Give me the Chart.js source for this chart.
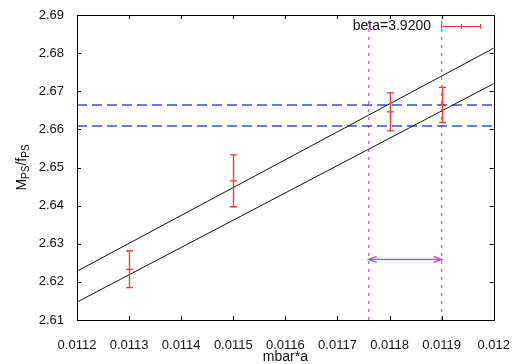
<!DOCTYPE html>
<html>
<head>
<meta charset="utf-8">
<script src="https://cdn.jsdelivr.net/npm/chart.js@4/dist/chart.umd.min.js"></script>
<style>
  html, body { margin: 0; padding: 0; background: #fff; }
  #wrap { width: 520px; height: 364px; }
</style>
</head>
<body>
<div id="wrap"><canvas id="c" width="520" height="364"></canvas></div>
<script>
// Measured ratio M_PS/f_PS against quark mass mbar*a
const massValues  = [0.0113, 0.0115, 0.0118, 0.0119];
const ratioValues = [2.6233, 2.6465, 2.6646, 2.6664];
const ratioErrors = [0.0048, 0.0068, 0.0050, 0.0046];

// Linear fit band (upper and lower edges)
const fitX     = [0.0112, 0.0120];
const fitUpper = [2.6228, 2.6813];
const fitLower = [2.6147, 2.6720];

// Target band in the ratio (horizontal dashed lines)
const bandLevels = [2.6664, 2.6609];

// Resulting interval in mbar*a (vertical dotted lines and arrow)
const markerX    = [0.01176, 0.0119];
const arrowLevel = 2.6259;

// Axis ticks
const xTicks      = [0.0112, 0.0113, 0.0114, 0.0115, 0.0116, 0.0117, 0.0118, 0.0119, 0.0120];
const xTickLabels = ['0.0112', '0.0113', '0.0114', '0.0115', '0.0116', '0.0117', '0.0118', '0.0119', '0.012'];
const yTicks      = [2.61, 2.62, 2.63, 2.64, 2.65, 2.66, 2.67, 2.68, 2.69];
const yTickLabels = ['2.61', '2.62', '2.63', '2.64', '2.65', '2.66', '2.67', '2.68', '2.69'];

const legendLabel = 'beta=3.9200';

const X_MIN = xTicks[0], X_MAX = xTicks[xTicks.length - 1];
const Y_MIN = yTicks[0], Y_MAX = yTicks[yTicks.length - 1];

const FONT = '"Liberation Sans", Arial, sans-serif';
const RED = '#ee3636';
const BLUE = '#3a52c4';
const MAGENTA_DOT = '#d070d0';
const MAGENTA = '#c048c0';

const measured = massValues.map((x, i) => ({ x: x, y: ratioValues[i], err: ratioErrors[i] }));

const datasets = [
  {
    label: 'fit upper',
    data: fitX.map((x, i) => ({ x: x, y: fitUpper[i] })),
    showLine: true, borderColor: '#111', borderWidth: 1, pointRadius: 0
  },
  {
    label: 'fit lower',
    data: fitX.map((x, i) => ({ x: x, y: fitLower[i] })),
    showLine: true, borderColor: '#111', borderWidth: 1, pointRadius: 0
  },
  ...bandLevels.map(level => ({
    label: 'band',
    data: [{ x: X_MIN, y: level }, { x: X_MAX, y: level }],
    showLine: true, borderColor: BLUE, borderWidth: 1.4, borderDash: [10, 5], pointRadius: 0
  })),
  ...markerX.map(mx => ({
    label: 'marker',
    data: [{ x: mx, y: Y_MIN }, { x: mx, y: Y_MAX }],
    showLine: true, borderColor: MAGENTA_DOT, borderWidth: 1.5, borderDash: [3, 5], pointRadius: 0
  })),
  {
    label: 'interval',
    data: markerX.map(mx => ({ x: mx, y: arrowLevel })),
    showLine: true, borderColor: MAGENTA, borderWidth: 1.2, pointRadius: 0
  },
  {
    label: legendLabel,
    data: measured,
    showLine: false, pointRadius: 0, borderColor: RED
  }
];

// Error bars, arrow heads, frame with inward ticks, axis titles and key
const decorations = {
  id: 'decorations',
  afterDatasetsDraw(chart) {
    const ctx = chart.ctx;
    const xs = chart.scales.x, ys = chart.scales.y;
    const a = chart.chartArea;

    ctx.save();

    // error bars
    ctx.strokeStyle = RED;
    ctx.lineWidth = 1.3;
    const cap = 3.5;
    measured.forEach(p => {
      const px = Math.round(xs.getPixelForValue(p.x)) + 0.5;
      const py = ys.getPixelForValue(p.y);
      const top = ys.getPixelForValue(p.y + p.err);
      const bot = ys.getPixelForValue(p.y - p.err);
      ctx.beginPath();
      ctx.moveTo(px, top); ctx.lineTo(px, bot);
      ctx.moveTo(px - cap, top); ctx.lineTo(px + cap, top);
      ctx.moveTo(px - cap, bot); ctx.lineTo(px + cap, bot);
      ctx.moveTo(px - cap, py); ctx.lineTo(px + cap, py);
      ctx.stroke();
    });

    // arrow heads on the interval
    const ay = ys.getPixelForValue(arrowLevel);
    const ax0 = xs.getPixelForValue(markerX[0]);
    const ax1 = xs.getPixelForValue(markerX[1]);
    ctx.strokeStyle = MAGENTA;
    ctx.lineWidth = 1.4;
    const hl = 8, hw = 3;
    ctx.beginPath();
    ctx.moveTo(ax0 + hl, ay - hw); ctx.lineTo(ax0, ay); ctx.lineTo(ax0 + hl, ay + hw);
    ctx.moveTo(ax1 - hl, ay - hw); ctx.lineTo(ax1, ay); ctx.lineTo(ax1 - hl, ay + hw);
    ctx.stroke();

    // frame
    ctx.strokeStyle = '#000';
    ctx.lineWidth = 1;
    ctx.strokeRect(Math.round(a.left) + 0.5, Math.round(a.top) + 0.5,
                   Math.round(a.right - a.left), Math.round(a.bottom - a.top));

    // inward ticks on all four sides
    const tl = 4;
    ctx.beginPath();
    xTicks.forEach(v => {
      const px = Math.round(xs.getPixelForValue(v)) + 0.5;
      ctx.moveTo(px, a.bottom); ctx.lineTo(px, a.bottom - tl);
      ctx.moveTo(px, a.top); ctx.lineTo(px, a.top + tl);
    });
    yTicks.forEach(v => {
      const py = Math.round(ys.getPixelForValue(v)) + 0.5;
      ctx.moveTo(a.left, py); ctx.lineTo(a.left + tl, py);
      ctx.moveTo(a.right, py); ctx.lineTo(a.right - tl, py);
    });
    ctx.stroke();

    // x axis title
    ctx.fillStyle = '#111';
    ctx.font = '14px ' + FONT;
    ctx.textAlign = 'center';
    ctx.textBaseline = 'middle';
    ctx.fillText('mbar*a', (a.left + a.right) / 2, 357);

    // y axis title with subscripts, rotated
    const mainFont = '14px ' + FONT;
    const subFont = '10px ' + FONT;
    const parts = [
      { t: 'M', f: mainFont, dy: 0 },
      { t: 'PS', f: subFont, dy: 4 },
      { t: '/f', f: mainFont, dy: 0 },
      { t: 'PS', f: subFont, dy: 4 }
    ];
    let total = 0;
    parts.forEach(p => { ctx.font = p.f; p.w = ctx.measureText(p.t).width; total += p.w; });
    ctx.save();
    ctx.translate(22, (a.top + a.bottom) / 2);
    ctx.rotate(-Math.PI / 2);
    ctx.textAlign = 'left';
    ctx.textBaseline = 'middle';
    let cx = -total / 2;
    parts.forEach(p => {
      ctx.font = p.f;
      ctx.fillText(p.t, cx, p.dy);
      cx += p.w;
    });
    ctx.restore();

    // key
    const ky = 26.5;
    ctx.font = '14px ' + FONT;
    ctx.textAlign = 'right';
    ctx.textBaseline = 'middle';
    ctx.fillStyle = '#111';
    ctx.fillText(legendLabel, 431, 26);
    ctx.strokeStyle = RED;
    ctx.lineWidth = 1;
    ctx.beginPath();
    ctx.moveTo(441, ky); ctx.lineTo(481, ky);
    [441.5, 461.5, 480.5].forEach(kx => { ctx.moveTo(kx, ky - 2.5); ctx.lineTo(kx, ky + 2.5); });
    ctx.stroke();

    ctx.restore();
  }
};

new Chart(document.getElementById('c'), {
  type: 'scatter',
  data: { datasets: datasets },
  options: {
    responsive: false,
    animation: false,
    devicePixelRatio: 1,
    layout: { padding: { top: 15, right: 22, left: 0, bottom: 0 } },
    plugins: { legend: { display: false }, tooltip: { enabled: false }, title: { display: false } },
    scales: {
      x: {
        type: 'linear',
        min: X_MIN, max: X_MAX,
        afterBuildTicks: s => { s.ticks = xTicks.map(v => ({ value: v })); },
        afterFit: s => { s.height = 44; },
        grid: { display: false },
        border: { display: false },
        ticks: {
          autoSkip: false, maxRotation: 0, padding: 10,
          color: '#111', font: { family: FONT, size: 13 },
          callback: (v, i) => xTickLabels[i]
        }
      },
      y: {
        type: 'linear',
        min: Y_MIN, max: Y_MAX,
        afterBuildTicks: s => { s.ticks = yTicks.map(v => ({ value: v })); },
        afterFit: s => { s.width = 77; },
        grid: { display: false },
        border: { display: false },
        ticks: {
          autoSkip: false, padding: 5,
          color: '#111', font: { family: FONT, size: 13 },
          callback: (v, i) => yTickLabels[i]
        }
      }
    }
  },
  plugins: [decorations]
});
</script>
</body>
</html>
